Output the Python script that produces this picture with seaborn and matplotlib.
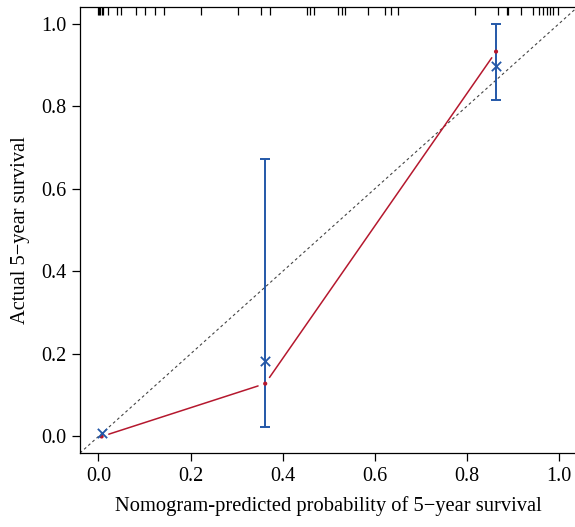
import numpy as np
import pandas as pd
import matplotlib
matplotlib.use("Agg")
import matplotlib.pyplot as plt
import seaborn as sns

# ---- data ----
pred = [0.007, 0.362, 0.863]          # nomogram-predicted probability (group means)
observed = [0.008, 0.182, 0.896]      # actual (KM) survival, blue crosses
apparent = [0.000, 0.128, 0.932]      # red connected points
ci_low = [0.008, 0.024, 0.816]
ci_high = [0.008, 0.671, 1.000]
rug = [0.000, 0.002, 0.004, 0.007, 0.010, 0.021, 0.041, 0.049, 0.082, 0.101,
       0.123, 0.143, 0.223, 0.303, 0.353, 0.373, 0.453, 0.460, 0.468, 0.520,
       0.529, 0.536, 0.586, 0.622, 0.635, 0.651, 0.818, 0.868, 0.887, 0.890,
       0.918, 0.944, 0.957, 0.965, 0.974, 0.981, 0.987, 0.998]
xticks = [0.0, 0.2, 0.4, 0.6, 0.8, 1.0]
yticks = [0.0, 0.2, 0.4, 0.6, 0.8, 1.0]
xlabel = "Nomogram-predicted probability of 5\u2212year survival"
ylabel = "Actual 5\u2212year survival"

RED = "#B5182E"
BLUE = "#2458A8"

sns.set_theme(style="ticks")
plt.rcParams["font.family"] = ["Liberation Serif", "DejaVu Serif"]
plt.rcParams["axes.edgecolor"] = "black"
plt.rcParams["axes.labelcolor"] = "black"
plt.rcParams["text.color"] = "black"
plt.rcParams["axes.linewidth"] = 0.9
plt.rcParams["xtick.color"] = "black"
plt.rcParams["ytick.color"] = "black"
plt.rcParams["xtick.labelcolor"] = "black"
plt.rcParams["ytick.labelcolor"] = "black"

fig = plt.figure(figsize=(5.75, 5.27), dpi=100)
ax = fig.add_axes([0.1391, 0.1404, 0.8654, 0.8463])
ax.set_xlim(-0.04, 1.04)
ax.set_ylim(-0.04, 1.04)

# ideal line
ax.plot([-0.04, 1.04], [-0.04, 1.04], color="#444444", lw=0.8,
        ls=(0, (2.5, 2.5)), zorder=1)

# rug at top
ax.vlines(rug, 0.981, 1.0, transform=ax.get_xaxis_transform(),
          color="black", lw=0.9, zorder=2)

# red line with gaps near points (type = "b")
fig.canvas.draw()
disp = ax.transData.transform(np.column_stack([pred, apparent]))
gap = 7.5
segs = []
for i in range(len(pred) - 1):
    p0, p1 = disp[i], disp[i + 1]
    d = p1 - p0
    L = np.hypot(*d)
    u = d / L
    a = p0 + u * gap
    b = p1 - u * gap
    segs.append(ax.transData.inverted().transform(np.vstack([a, b])))
seg_df = pd.concat([pd.DataFrame({"x": s[:, 0], "y": s[:, 1], "seg": k})
                    for k, s in enumerate(segs)])
sns.lineplot(data=seg_df, x="x", y="y", units="seg", estimator=None,
             color=RED, lw=1.1, ax=ax, zorder=3, sort=False)

# error bars (only where an interval exists)
pa, oa = np.array(pred), np.array(observed)
lo, hi = np.array(ci_low), np.array(ci_high)
m = hi > lo
yerr = np.array([oa[m] - lo[m], hi[m] - oa[m]])
ax.errorbar(pa[m], oa[m], yerr=yerr, fmt="none", ecolor=BLUE, elinewidth=1.4,
            capsize=3.8, capthick=1.4, zorder=4)

df = pd.DataFrame({"pred": pred, "observed": observed, "apparent": apparent})
sns.scatterplot(data=df, x="pred", y="apparent", color=RED, s=9,
                edgecolor="none", ax=ax, zorder=5)
sns.scatterplot(data=df, x="pred", y="observed", color=BLUE, marker="x", s=45,
                linewidth=1.3, ax=ax, zorder=6)

ax.set_xticks(xticks)
ax.set_yticks(yticks)
ax.set_xticklabels([f"{v:.1f}" for v in xticks])
ax.set_yticklabels([f"{v:.1f}" for v in yticks])
ax.tick_params(axis="both", length=6, width=0.9, labelsize=14.5, pad=4,
               colors="black")
ax.set_xlabel(xlabel, fontsize=14.8, labelpad=7, color="black")
ax.set_ylabel(ylabel, fontsize=14.8, labelpad=8, color="black")
ax.spines["right"].set_visible(False)

fig.savefig("out.png", dpi=100)
